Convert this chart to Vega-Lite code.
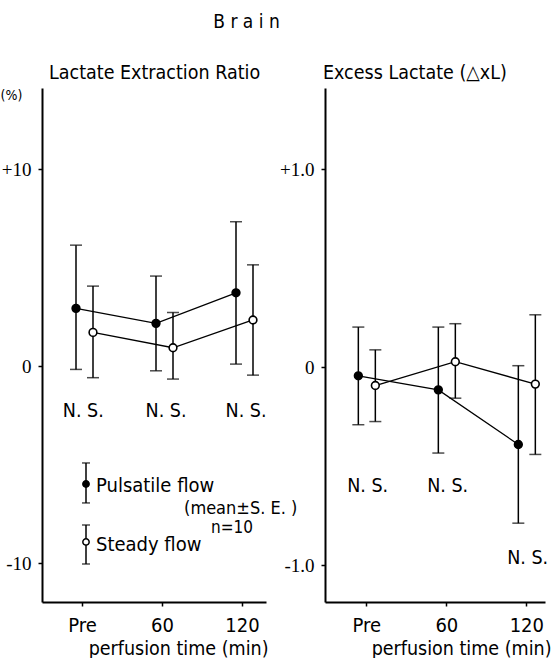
{
  "$schema": "https://vega.github.io/schema/vega-lite/v6.json",
  "padding": {"left": 0, "top": 12, "right": 0, "bottom": 0},
  "background": "white",
  "title": {"text": "B r a i n", "font": "DejaVu Sans Condensed", "fontSize": 19, "fontWeight": "normal", "color": "black", "anchor": "middle", "dx": -29, "offset": 31},
  "spacing": 59,
  "bounds": "flush",
  "datasets": {
    "ler": [
      {"flow": "Pulsatile", "time": 0, "mean": 2.93, "lo": -0.17, "hi": 6.14},
      {"flow": "Steady", "time": 0, "mean": 1.71, "lo": -0.59, "hi": 4.06},
      {"flow": "Pulsatile", "time": 60, "mean": 2.17, "lo": -0.24, "hi": 4.57},
      {"flow": "Steady", "time": 60, "mean": 0.93, "lo": -0.66, "hi": 2.72},
      {"flow": "Pulsatile", "time": 120, "mean": 3.72, "lo": 0.1, "hi": 7.33},
      {"flow": "Steady", "time": 120, "mean": 2.34, "lo": -0.46, "hi": 5.14}
    ],
    "xl": [
      {"flow": "Pulsatile", "time": 0, "mean": -0.043, "lo": -0.29, "hi": 0.203},
      {"flow": "Steady", "time": 0, "mean": -0.092, "lo": -0.274, "hi": 0.088},
      {"flow": "Pulsatile", "time": 60, "mean": -0.114, "lo": -0.433, "hi": 0.203},
      {"flow": "Steady", "time": 60, "mean": 0.028, "lo": -0.156, "hi": 0.22},
      {"flow": "Pulsatile", "time": 120, "mean": -0.39, "lo": -0.787, "hi": 0.008},
      {"flow": "Steady", "time": 120, "mean": -0.085, "lo": -0.44, "hi": 0.265}
    ],
    "lerNS": [
      {"time": 1, "y": -2.3, "label": "N. S."},
      {"time": 63, "y": -2.3, "label": "N. S."},
      {"time": 123, "y": -2.3, "label": "N. S."}
    ],
    "xlNS": [
      {"time": 1, "y": -0.6, "label": "N. S."},
      {"time": 61, "y": -0.6, "label": "N. S."},
      {"time": 121, "y": -0.965, "label": "N. S."}
    ],
    "legend": [
      {"flow": "Pulsatile", "time": 3, "mean": -5.99, "lo": -6.95, "hi": -4.92, "ty": -6.1, "label": "Pulsatile flow"},
      {"flow": "Steady", "time": 3, "mean": -8.93, "lo": -10.05, "hi": -8.07, "ty": -9.1, "label": "Steady flow"}
    ],
    "note": [
      {"time": 119, "y": -7.25, "label": "(mean±S. E. )", "fs": 18},
      {"time": 112.5, "y": -8.2, "label": "n=10", "fs": 17}
    ]
  },
  "hconcat": [
    {
      "width": 224,
      "height": 514,
      "title": {"text": "Lactate Extraction Ratio", "anchor": "start", "frame": "group", "dx": 7, "offset": -10, "baseline": "alphabetic", "font": "DejaVu Sans Condensed", "fontSize": 19.5, "fontWeight": "normal", "color": "black"},
      "layer": [
        {
          "data": {"name": "ler"},
          "transform": [{"calculate": "datum.time + (datum.flow == 'Pulsatile' ? -4.5 : 8.25)", "as": "xpos"}],
          "encoding": {
            "x": {"field": "xpos", "type": "quantitative", "scale": {"domain": [-30, 138], "nice": false, "zero": false},
              "axis": {"values": [0, 60, 120], "labelExpr": "datum.value == 0 ? 'Pre' : datum.label", "labelFont": "DejaVu Sans Condensed", "labelFontSize": 20, "labelPadding": 9, "title": "perfusion time (min)", "titleFont": "DejaVu Sans Condensed", "titleFontSize": 19.5, "titleAnchor": "end", "titleAlign": "right", "titleX": 226, "titleY": 52, "titleBaseline": "alphabetic"}}
          },
          "layer": [
            {"mark": {"type": "rule", "color": "black", "strokeWidth": 1.5},
              "encoding": {
                "y": {"field": "lo", "type": "quantitative", "scale": {"domain": [-11.98, 14.12], "nice": false, "zero": false},
                  "axis": {"values": [10, 0, -10], "labelExpr": "datum.value > 0 ? '+' + datum.value : datum.value < 0 ? '-' + abs(datum.value) : '0'", "labelFont": "Liberation Serif", "labelFontSize": 19, "labelPadding": 7, "title": "(%)", "titleAngle": 0, "titleAlign": "left", "titleBaseline": "middle", "titleX": -42, "titleY": 7, "titleFont": "DejaVu Sans Condensed", "titleFontSize": 14}},
                "y2": {"field": "hi"}}},
            {"mark": {"type": "tick", "orient": "horizontal", "color": "black", "size": 12, "thickness": 1.5}, "encoding": {"y": {"field": "lo", "type": "quantitative"}}},
            {"mark": {"type": "tick", "orient": "horizontal", "color": "black", "size": 12, "thickness": 1.5}, "encoding": {"y": {"field": "hi", "type": "quantitative"}}},
            {"mark": {"type": "line", "color": "black", "strokeWidth": 1.3}, "encoding": {"y": {"field": "mean", "type": "quantitative"}, "detail": {"field": "flow"}}},
            {"mark": {"type": "point", "shape": "circle", "filled": false, "stroke": "black", "strokeWidth": 1.6, "size": 60, "opacity": 1},
              "encoding": {"y": {"field": "mean", "type": "quantitative"},
                "fill": {"field": "flow", "type": "nominal", "scale": {"domain": ["Pulsatile", "Steady"], "range": ["black", "white"]}, "legend": null}}}
          ]
        },
        {
          "data": {"name": "lerNS"},
          "mark": {"type": "text", "font": "DejaVu Sans Condensed", "fontSize": 19.5, "color": "black", "baseline": "middle", "align": "center"},
          "encoding": {"x": {"field": "time", "type": "quantitative"}, "y": {"field": "y", "type": "quantitative"}, "text": {"field": "label"}}
        },
        {
          "data": {"name": "legend"},
          "layer": [
            {"mark": {"type": "rule", "color": "black", "strokeWidth": 1.5},
              "encoding": {"x": {"field": "time", "type": "quantitative"}, "y": {"field": "lo", "type": "quantitative"}, "y2": {"field": "hi"}}},
            {"mark": {"type": "tick", "orient": "horizontal", "color": "black", "size": 8, "thickness": 1.5},
              "encoding": {"x": {"field": "time", "type": "quantitative"}, "y": {"field": "lo", "type": "quantitative"}}},
            {"mark": {"type": "tick", "orient": "horizontal", "color": "black", "size": 8, "thickness": 1.5},
              "encoding": {"x": {"field": "time", "type": "quantitative"}, "y": {"field": "hi", "type": "quantitative"}}},
            {"mark": {"type": "point", "shape": "circle", "filled": false, "stroke": "black", "strokeWidth": 1.5, "size": 40, "opacity": 1},
              "encoding": {"x": {"field": "time", "type": "quantitative"}, "y": {"field": "mean", "type": "quantitative"},
                "fill": {"field": "flow", "type": "nominal", "legend": null}}},
            {"mark": {"type": "text", "font": "DejaVu Sans Condensed", "fontSize": 20, "color": "black", "baseline": "middle", "align": "left", "dx": 10},
              "encoding": {"x": {"field": "time", "type": "quantitative"}, "y": {"field": "ty", "type": "quantitative"}, "text": {"field": "label"}}}
          ]
        },
        {
          "data": {"name": "note"},
          "mark": {"type": "text", "font": "DejaVu Sans Condensed", "color": "black", "baseline": "middle", "align": "center"},
          "encoding": {"x": {"field": "time", "type": "quantitative"}, "y": {"field": "y", "type": "quantitative"}, "text": {"field": "label"},
            "size": {"field": "fs", "type": "quantitative", "scale": null, "legend": null}}
        }
      ]
    },
    {
      "width": 220,
      "height": 514,
      "title": {"text": "Excess Lactate (△xL)", "anchor": "start", "frame": "group", "dx": -2, "offset": -10, "baseline": "alphabetic", "font": "DejaVu Sans Condensed", "fontSize": 19.5, "fontWeight": "normal", "color": "black"},
      "layer": [
        {
          "data": {"name": "xl"},
          "transform": [{"calculate": "datum.time + (datum.flow == 'Pulsatile' ? -6 : 6.75)", "as": "xpos"}],
          "encoding": {
            "x": {"field": "xpos", "type": "quantitative", "scale": {"domain": [-31, 134], "nice": false, "zero": false},
              "axis": {"values": [0, 60, 120], "labelExpr": "datum.value == 0 ? 'Pre' : datum.label", "labelFont": "DejaVu Sans Condensed", "labelFontSize": 20, "labelPadding": 9, "title": "perfusion time (min)", "titleFont": "DejaVu Sans Condensed", "titleFontSize": 19.5, "titleAnchor": "end", "titleAlign": "right", "titleX": 226, "titleY": 52, "titleBaseline": "alphabetic"}}
          },
          "layer": [
            {"mark": {"type": "rule", "color": "black", "strokeWidth": 1.5},
              "encoding": {
                "y": {"field": "lo", "type": "quantitative", "scale": {"domain": [-1.185, 1.41], "nice": false, "zero": false},
                  "axis": {"values": [1, 0, -1], "labelExpr": "datum.value > 0 ? '+' + format(datum.value, '.1f') : datum.value < 0 ? '-' + format(abs(datum.value), '.1f') : '0'", "labelFont": "Liberation Serif", "labelFontSize": 19, "labelPadding": 7, "title": null}},
                "y2": {"field": "hi"}}},
            {"mark": {"type": "tick", "orient": "horizontal", "color": "black", "size": 12, "thickness": 1.5}, "encoding": {"y": {"field": "lo", "type": "quantitative"}}},
            {"mark": {"type": "tick", "orient": "horizontal", "color": "black", "size": 12, "thickness": 1.5}, "encoding": {"y": {"field": "hi", "type": "quantitative"}}},
            {"mark": {"type": "line", "color": "black", "strokeWidth": 1.3}, "encoding": {"y": {"field": "mean", "type": "quantitative"}, "detail": {"field": "flow"}}},
            {"mark": {"type": "point", "shape": "circle", "filled": false, "stroke": "black", "strokeWidth": 1.6, "size": 60, "opacity": 1},
              "encoding": {"y": {"field": "mean", "type": "quantitative"},
                "fill": {"field": "flow", "type": "nominal", "scale": {"domain": ["Pulsatile", "Steady"], "range": ["black", "white"]}, "legend": null}}}
          ]
        },
        {
          "data": {"name": "xlNS"},
          "mark": {"type": "text", "font": "DejaVu Sans Condensed", "fontSize": 19.5, "color": "black", "baseline": "middle", "align": "center"},
          "encoding": {"x": {"field": "time", "type": "quantitative"}, "y": {"field": "y", "type": "quantitative"}, "text": {"field": "label"}}
        }
      ]
    }
  ],
  "config": {
    "view": {"stroke": null},
    "axis": {"grid": false, "domainColor": "black", "domainWidth": 2, "tickColor": "black", "tickWidth": 1.5, "tickSize": 4, "labelColor": "black", "titleColor": "black", "labelFontWeight": "normal", "titleFontWeight": "normal"}
  }
}
